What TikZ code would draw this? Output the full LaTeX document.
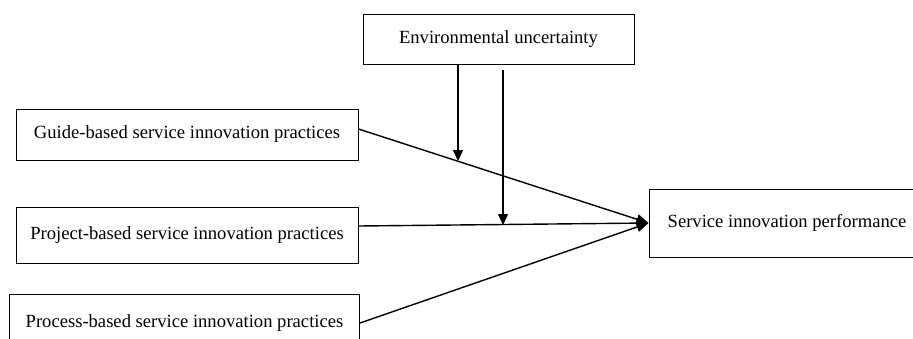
\documentclass[tikz,border=0pt]{standalone}
\usepackage{fontspec}
\setmainfont{Liberation Serif}
\usetikzlibrary{arrows.meta}
\begin{document}
\begin{tikzpicture}[x=1pt,y=-1pt,
  box/.style={draw, line width=1pt, rectangle, inner sep=0pt, font=\fontsize{18.6}{22}\selectfont},
  conn/.style={line width=1.4pt, -{Triangle[length=12pt,width=10pt]}},
  vconn/.style={line width=1.4pt, -{Triangle[length=11pt,width=10pt]}}]
\useasboundingbox (0,0) rectangle (913,338);
\begin{scope}
\clip (0,0) rectangle (913,338);
\node[box, minimum width=271pt, minimum height=50pt] (env) at (498.5,39) {Environmental uncertainty};
\node[box, minimum width=342pt, minimum height=51pt] (guide) at (187,134.5) {Guide-based service innovation practices};
\node[box, minimum width=342pt, minimum height=56pt] (proj) at (187,235) {Project-based service innovation practices};
\node[box, minimum width=350pt, minimum height=58pt] (proc) at (184.5,323) {Process-based service innovation practices};
\node[box, minimum width=276pt, minimum height=68pt] (serv) at (787,223) {Service innovation performance};
\coordinate (g0) at ([yshift=5.5pt]guide.east);
\coordinate (p0) at ([yshift=9pt]proj.east);
\coordinate (q0) at (proc.east);
\coordinate (v1s) at (458,64);
\coordinate (v1e) at (458,161);
\coordinate (v2s) at (503,70);
\coordinate (v2e) at (503,225);
\draw[conn] (g0) -- (serv.west);
\draw[conn] (p0) -- (serv.west);
\draw[conn] (q0) -- (serv.west);
\draw[vconn] (v1s) -- (v1e);
\draw[vconn] (v2s) -- (v2e);
\end{scope}
\end{tikzpicture}
\end{document}
